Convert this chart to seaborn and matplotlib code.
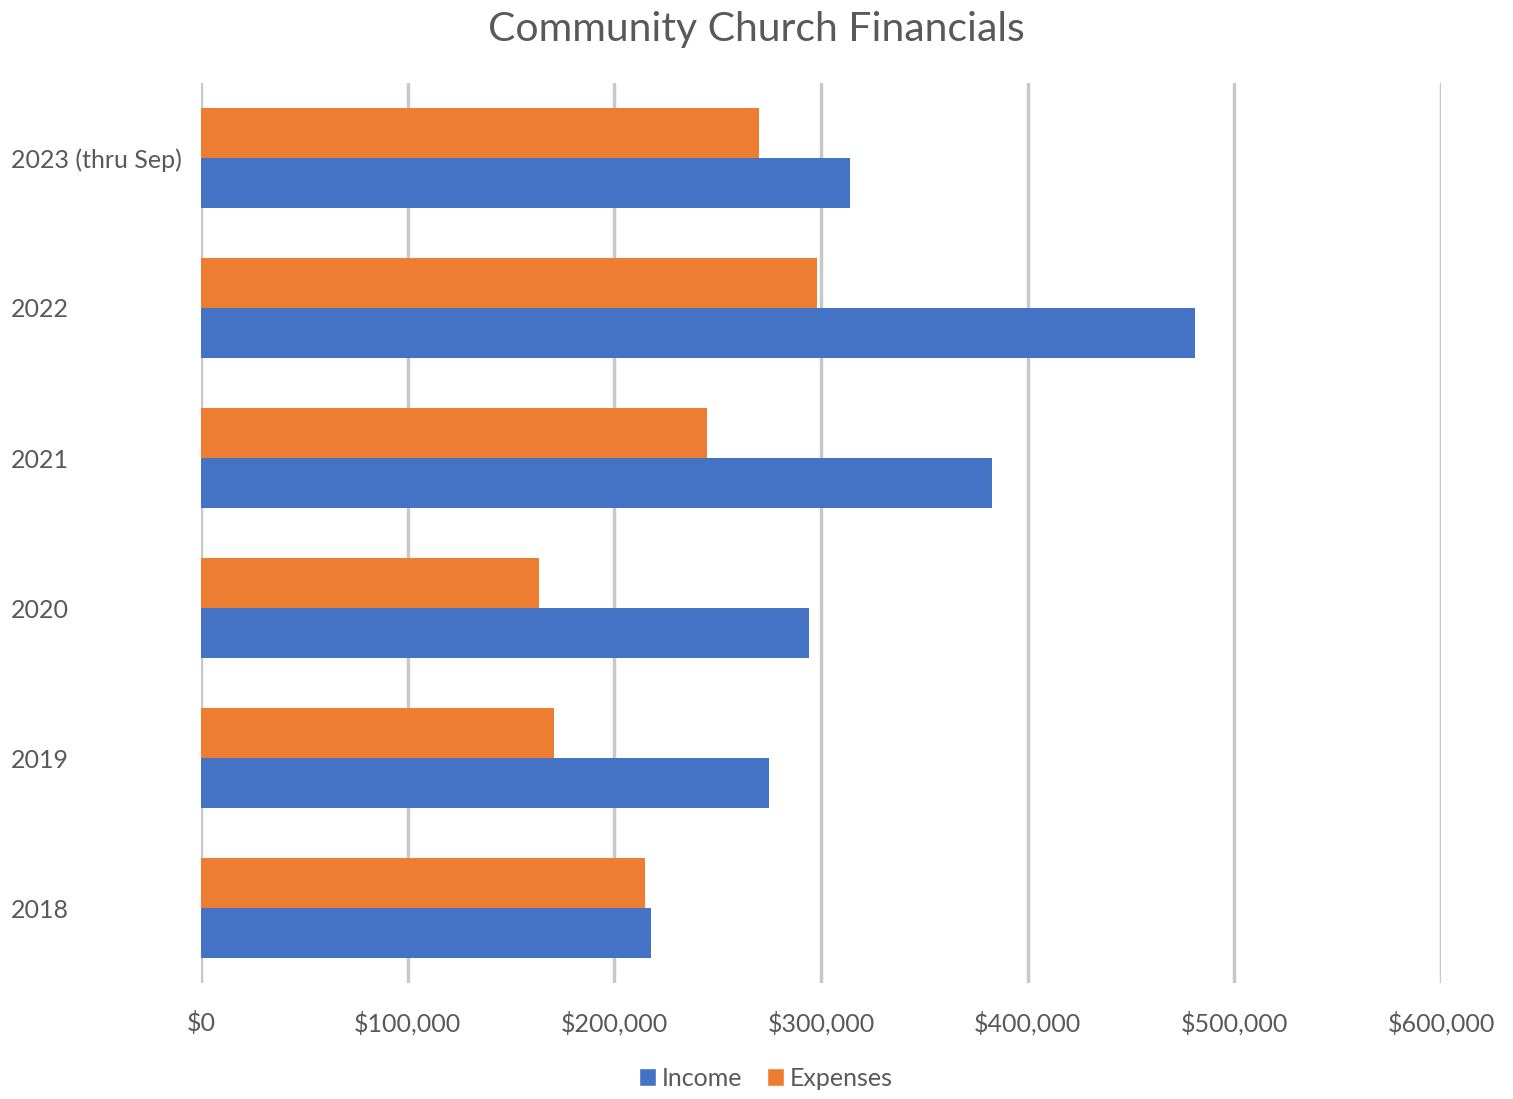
import matplotlib
matplotlib.use("Agg")
import matplotlib.pyplot as plt
import seaborn as sns
import pandas as pd
from matplotlib.patches import Patch
from matplotlib.ticker import FuncFormatter

years = ["2023 (thru Sep)", "2022", "2021", "2020", "2019", "2018"]
income = [314000, 481000, 383000, 294000, 275000, 218000]
expenses = [270000, 298000, 245000, 163500, 171000, 215000]
series = ["Income", "Expenses"]
colors = {"Income": "#4472C4", "Expenses": "#ED7D31"}

df = pd.DataFrame({
    "Year": years * 2,
    "Amount": income + expenses,
    "Series": ["Income"] * len(years) + ["Expenses"] * len(years),
})

sns.set_theme(style="white")
plt.rcParams["font.family"] = ["Lato", "DejaVu Sans"]
text_color = "#595959"

fig = plt.figure(figsize=(15.13, 10.99), dpi=100)
ax = fig.add_axes([0.1328, 0.1055, 0.8196, 0.819])

sns.barplot(data=df, y="Year", x="Amount", hue="Series", order=years,
            hue_order=["Expenses", "Income"], palette=colors, orient="h",
            width=0.667, saturation=1, ax=ax, legend=False, zorder=3,
            linewidth=0, edgecolor="none")

ax.set_xlim(0, 600000)
ax.set_ylim(5.5, -0.5)
ax.set_xticks(range(0, 600001, 100000))
ax.xaxis.set_major_formatter(FuncFormatter(lambda v, p: f"${v:,.0f}"))
ax.grid(axis="x", color="#c8c8c8", linewidth=2.5, zorder=0)
ax.grid(axis="y", visible=False)
ax.set_axisbelow(True)
for s in ax.spines.values():
    s.set_visible(False)
ax.set_xlabel("")
ax.set_ylabel("")
ax.tick_params(axis="both", length=0, labelsize=18, colors=text_color)
ax.tick_params(axis="x", pad=20)
ax.tick_params(axis="y", pad=137)
for lbl in ax.get_yticklabels():
    lbl.set_horizontalalignment("left")

fig.suptitle("Community Church Financials", y=0.99, fontsize=29.5, color=text_color, va="top")

handles = [Patch(facecolor=colors[s], label=s) for s in series]
fig.legend(handles=handles, loc="lower center", bbox_to_anchor=(0.506, -0.012), ncol=2,
           frameon=False, fontsize=18, handlelength=0.7, handleheight=0.7,
           handletextpad=0.2, columnspacing=1.0, labelcolor=text_color)

fig.savefig("out.png", dpi=100)
